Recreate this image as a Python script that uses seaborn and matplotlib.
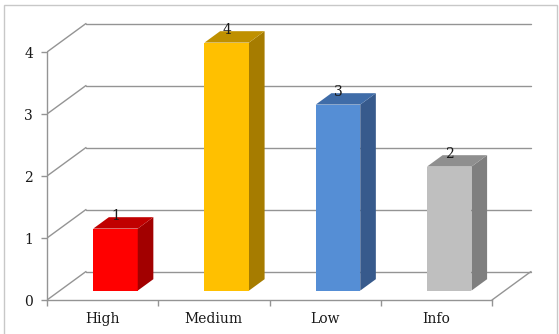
import matplotlib
matplotlib.use("Agg")
import matplotlib.pyplot as plt
import seaborn as sns
from matplotlib.patches import Polygon, Rectangle

# ---- data ----
categories = ["High", "Medium", "Low", "Info"]
counts = [1, 4, 3, 2]
front_colors = ["#FF0000", "#FFC000", "#558ED5", "#BFBFBF"]
side_colors = ["#A20000", "#A67C00", "#375A8C", "#7F7F7F"]
top_colors = ["#C00000", "#BF9000", "#3F6CA8", "#8F8F8F"]
y_ticks = [0, 1, 2, 3, 4]

sns.set_theme(style="white")
plt.rcParams['font.family'] = ['DejaVu Serif']
FS = 10
TXT = "#1a1a1a"
GRID = "#949494"

W, H = 559, 334
fig = plt.figure(figsize=(W / 100, H / 100), dpi=100)
px_left, px_right, px_bottom, px_top = 47, 533, 300, 16
ax = fig.add_axes([px_left / W, (H - px_bottom) / H,
                   (px_right - px_left) / W, (px_bottom - px_top) / H])

ux = 111.25  # px per category
uy = 62.0    # px per unit value
DX = 39 / ux     # full floor depth in x
DY = 28.5 / uy   # full floor depth in y
f0 = 0.33        # bar start depth fraction
fd = 0.40        # bar depth fraction

sns.barplot(x=categories, y=counts, hue=categories, palette=front_colors,
            width=0.4, saturation=1, legend=False, ax=ax, zorder=3,
            edgecolor="none")

bars = [c for cont in ax.containers for c in cont]
for i, p in enumerate(bars):
    p.set_x(p.get_x() + f0 * DX)
    p.set_y(p.get_y() + f0 * DY)
    x0 = p.get_x()
    x1 = x0 + p.get_width()
    y0 = p.get_y()
    y1 = y0 + p.get_height()
    ddx, ddy = fd * DX, fd * DY
    side = Polygon([(x1, y0), (x1 + ddx, y0 + ddy), (x1 + ddx, y1 + ddy), (x1, y1)],
                   closed=True, facecolor=side_colors[i], edgecolor="none", zorder=3)
    top = Polygon([(x0, y1), (x1, y1), (x1 + ddx, y1 + ddy), (x0 + ddx, y1 + ddy)],
                  closed=True, facecolor=top_colors[i], edgecolor="none", zorder=3)
    ax.add_patch(side)
    ax.add_patch(top)
    ax.text((x0 + x1) / 2, y1 + ddy - 2.5 / uy, str(counts[i]), ha="center",
            va="baseline", fontsize=FS, color=TXT, zorder=5)

# back wall, side wall and floor lines
n = len(categories)
xl, xr = -0.5, n - 0.5
for v in y_ticks:
    ax.plot([xl + DX, xr + DX], [v + DY, v + DY], color=GRID, lw=1.0, zorder=1)
    ax.plot([xl, xl + DX], [v, v + DY], color=GRID, lw=1.0, zorder=1)
ax.plot([xr, xr + DX], [0, DY], color=GRID, lw=1.0, zorder=1)

ax.set_xlim(xl, xl + (px_right - px_left) / ux)
ax.set_ylim(0, (px_bottom - px_top) / uy)

for s in ["top", "right"]:
    ax.spines[s].set_visible(False)
for s in ["left", "bottom"]:
    ax.spines[s].set_color(GRID)
    ax.spines[s].set_linewidth(1.0)
ax.spines["left"].set_bounds(0, 4)
ax.spines["bottom"].set_bounds(xl, xr)

ax.set_yticks(y_ticks)
ax.set_yticklabels([str(t) for t in y_ticks])
ax.tick_params(axis="y", direction="out", length=4, width=1, color=GRID,
               pad=6, labelsize=FS, labelcolor=TXT, left=True)
ax.set_xticks(range(n))
ax.set_xticklabels(categories)
ax.set_xticks([xl + k for k in range(n + 1)], minor=True)
ax.tick_params(axis="x", which="major", length=0, pad=16.5, labelsize=FS, labelcolor=TXT)
for lab in ax.get_xticklabels():
    lab.set_verticalalignment("baseline")
ax.tick_params(axis="x", which="minor", direction="out", length=4, width=1,
               color=GRID, bottom=True)
ax.set_xlabel("")
ax.set_ylabel("")
ax.grid(False)
ax.patch.set_alpha(0)

fig.add_artist(Rectangle((4 / W, -0.05), (557 - 4) / W, (H - 5) / H + 0.05,
                         transform=fig.transFigure, fill=False,
                         edgecolor="#C8C8C8", lw=1.0))

fig.savefig("out.png", dpi=100)
